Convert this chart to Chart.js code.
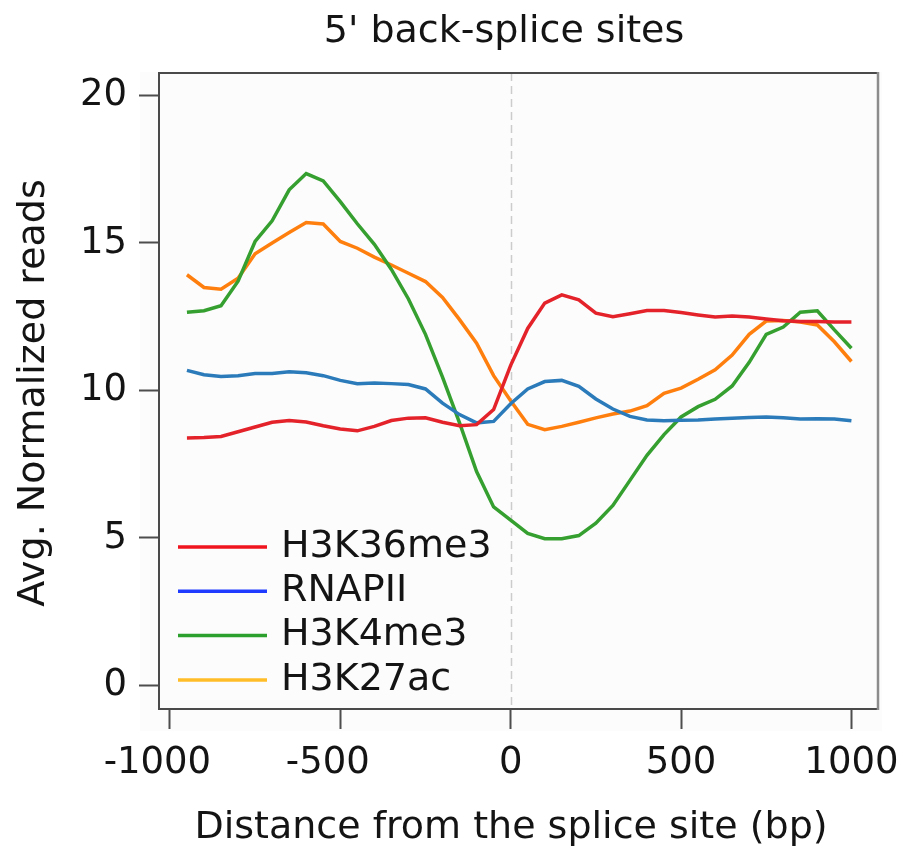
<!DOCTYPE html>
<html>
<head>
<meta charset="utf-8">
<script src="https://cdn.jsdelivr.net/npm/chart.js@4.4.1/dist/chart.umd.min.js"></script>
<style>
  html, body { margin: 0; padding: 0; background: #ffffff; }
  #wrap { width: 902px; height: 848px; }
</style>
</head>
<body>
<div id="wrap"><canvas id="chart" width="902" height="848"></canvas></div>
<script>
// Distance from the splice site (bp), one sample every 50 bp
const positions = [-950, -900, -850, -800, -750, -700, -650, -600, -550, -500,
                   -450, -400, -350, -300, -250, -200, -150, -100, -50, 0,
                   50, 100, 150, 200, 250, 300, 350, 400, 450, 500,
                   550, 600, 650, 700, 750, 800, 850, 900, 950, 1000];

// Average normalized reads per mark
const h3k36me3 = [8.39, 8.40, 8.44, 8.60, 8.76, 8.92, 8.98, 8.93, 8.80, 8.69,
                  8.63, 8.78, 8.98, 9.06, 9.07, 8.92, 8.80, 8.84, 9.35, 10.85,
                  12.10, 12.96, 13.24, 13.07, 12.62, 12.50, 12.60, 12.71, 12.71, 12.64,
                  12.56, 12.49, 12.52, 12.49, 12.42, 12.36, 12.34, 12.34, 12.32, 12.32];
const rnapii   = [10.68, 10.53, 10.47, 10.50, 10.57, 10.57, 10.63, 10.60, 10.50, 10.34,
                  10.23, 10.25, 10.23, 10.20, 10.05, 9.57, 9.18, 8.90, 8.95, 9.55,
                  10.05, 10.30, 10.34, 10.14, 9.71, 9.37, 9.12, 9.00, 8.97, 8.99,
                  9.00, 9.03, 9.06, 9.08, 9.10, 9.07, 9.03, 9.04, 9.03, 8.97];
const h3k4me3  = [12.65, 12.70, 12.87, 13.70, 15.05, 15.75, 16.80, 17.35, 17.10, 16.40,
                  15.65, 14.95, 14.10, 13.10, 11.90, 10.45, 8.90, 7.25, 6.05, 5.60,
                  5.15, 4.97, 4.97, 5.08, 5.50, 6.10, 6.95, 7.80, 8.50, 9.10,
                  9.45, 9.70, 10.15, 10.95, 11.90, 12.15, 12.65, 12.70, 12.05, 11.43];
const h3k27ac  = [13.92, 13.49, 13.43, 13.80, 14.63, 15.00, 15.35, 15.69, 15.64, 15.05,
                  14.82, 14.52, 14.25, 13.97, 13.69, 13.15, 12.40, 11.60, 10.50, 9.65,
                  8.85, 8.67, 8.78, 8.92, 9.07, 9.20, 9.30, 9.48, 9.90, 10.08,
                  10.38, 10.70, 11.20, 11.90, 12.35, 12.37, 12.32, 12.22, 11.65, 10.98];

const seriesNames = ['H3K36me3', 'RNAPII', 'H3K4me3', 'H3K27ac'];
const xTicks = [-1000, -500, 0, 500, 1000];
const yTicks = [0, 5, 10, 15, 20];

const chartTitle = "5' back-splice sites";
const xTitle = 'Distance from the splice site (bp)';
const yTitle = 'Avg. Normalized reads';

const FONT = "'DejaVu Sans', 'Liberation Sans', sans-serif";
const lineColors   = ['#e3222a', '#2b7bba', '#35a02f', '#ff7f0e'];
const legendColors = ['#f0141e', '#1f3bff', '#2ca02c', '#ffbe28'];

const toPoints = vals => positions.map((p, i) => ({ x: p, y: vals[i] }));
const seriesValues = [h3k36me3, rnapii, h3k4me3, h3k27ac];

const datasets = seriesValues.map((vals, i) => ({
  label: seriesNames[i],
  data: toPoints(vals),
  borderColor: lineColors[i],
  backgroundColor: lineColors[i],
  borderWidth: 3.5,
  pointRadius: 0,
  tension: 0,
  fill: false
}));

// Page background, faint axes panel, negative-label nudge and the dashed splice-site marker
const backdrop = {
  id: 'backdrop',
  beforeDraw(chart) {
    const { ctx, chartArea: a } = chart;
    ctx.save();
    ctx.fillStyle = '#ffffff';
    ctx.fillRect(0, 0, chart.width, chart.height);
    ctx.fillStyle = '#fcfcfc';
    ctx.fillRect(a.left - 19, a.top - 1, a.right - a.left + 23, a.bottom - a.top + 23);
    ctx.restore();

    // negative x labels hang their minus sign to the left of the tick
    const xs = chart.scales.x;
    xs.getLabelItems().forEach((item, i) => {
      if (xs.ticks[i] && xs.ticks[i].value < 0) item.options.translation[0] -= 12.5;
    });
  },
  beforeDatasetsDraw(chart) {
    const { ctx, chartArea: a, scales } = chart;
    const x0 = Math.round(scales.x.getPixelForValue(0)) + 0.5;
    ctx.save();
    ctx.strokeStyle = '#cccccc';
    ctx.lineWidth = 1.5;
    ctx.setLineDash([8, 5]);
    ctx.beginPath();
    ctx.moveTo(x0, a.top);
    ctx.lineTo(x0, a.bottom);
    ctx.stroke();
    ctx.restore();
  }
};

// Axes frame, legend and titles
const decorations = {
  id: 'decorations',
  afterDraw(chart) {
    const { ctx, chartArea: a } = chart;
    ctx.save();
    // frame
    ctx.lineWidth = 2;
    ctx.strokeStyle = '#4a4a4a';
    ctx.beginPath();
    ctx.moveTo(a.right, a.top);
    ctx.lineTo(a.left, a.top);
    ctx.lineTo(a.left, a.bottom);
    ctx.lineTo(a.right, a.bottom);
    ctx.stroke();
    ctx.strokeStyle = '#8c8c8c';
    ctx.lineWidth = 2.5;
    ctx.beginPath();
    ctx.moveTo(a.right, a.top - 1);
    ctx.lineTo(a.right, a.bottom + 1);
    ctx.stroke();

    // legend in the lower-left corner of the plot
    ctx.font = '38px ' + FONT;
    ctx.textAlign = 'left';
    ctx.textBaseline = 'middle';
    const lx = a.left + 19, lw = 89, tx = a.left + 122;
    const rowY = a.bottom - 165, step = 44.3;
    seriesNames.forEach((name, i) => {
      const y = rowY + i * step;
      ctx.strokeStyle = legendColors[i];
      ctx.lineWidth = 3.5;
      ctx.beginPath();
      ctx.moveTo(lx, y + 3);
      ctx.lineTo(lx + lw, y + 3);
      ctx.stroke();
      ctx.fillStyle = '#141414';
      ctx.fillText(name, tx, y + 3);
    });

    // titles
    ctx.fillStyle = '#141414';
    ctx.textAlign = 'center';
    ctx.textBaseline = 'alphabetic';
    ctx.font = '38px ' + FONT;
    ctx.fillText(chartTitle, 504, 42);
    ctx.fillText(xTitle, 511, 838);
    ctx.translate(44, 393);
    ctx.rotate(-Math.PI / 2);
    ctx.fillText(yTitle, 0, 0);
    ctx.restore();
  }
};

const tickFont = { family: FONT, size: 37, lineHeight: 1.2 };

new Chart(document.getElementById('chart'), {
  type: 'line',
  data: { datasets },
  options: {
    responsive: false,
    animation: false,
    devicePixelRatio: 1,
    layout: { padding: { top: 73, right: 24, left: 0, bottom: 0 } },
    plugins: {
      legend: { display: false },
      title: { display: false },
      tooltip: { enabled: false }
    },
    scales: {
      x: {
        type: 'linear',
        min: -1032,
        max: 1078,
        afterBuildTicks: s => { s.ticks = xTicks.map(v => ({ value: v })); },
        afterFit: s => { s.height = 139; s.paddingLeft = 0; s.paddingRight = 0; },
        grid: { drawOnChartArea: false, drawTicks: true, tickLength: 20, tickWidth: 2, tickColor: '#4d4d4d' },
        border: { display: false },
        ticks: {
          font: tickFont, color: '#141414', padding: 12,
          maxRotation: 0, autoSkip: false,
          callback: v => String(v)
        }
      },
      y: {
        type: 'linear',
        min: -0.8,
        max: 20.76,
        afterBuildTicks: s => { s.ticks = yTicks.map(v => ({ value: v })); },
        afterFit: s => { s.width = 159; s.paddingTop = 0; s.paddingBottom = 0; },
        grid: { drawOnChartArea: false, drawTicks: true, tickLength: 20, tickWidth: 2, tickColor: '#4d4d4d' },
        border: { display: false },
        ticks: {
          font: tickFont, color: '#141414', padding: 12,
          autoSkip: false,
          callback: v => String(v)
        }
      }
    }
  },
  plugins: [backdrop, decorations]
});
</script>
</body>
</html>
